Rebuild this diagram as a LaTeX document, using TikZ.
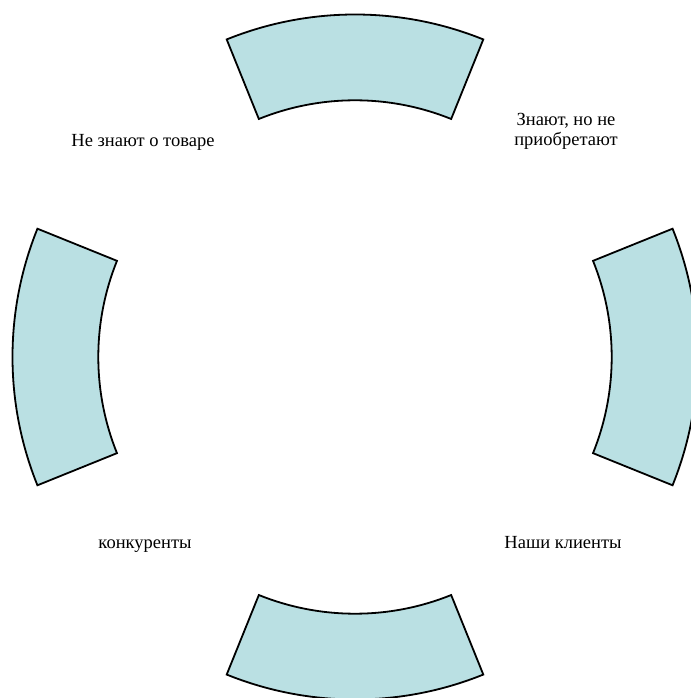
\documentclass[tikz,border=0pt]{standalone}
\usepackage{fontspec}
\setmainfont{Liberation Serif}
\definecolor{secfill}{RGB}{186,224,227}
\tikzset{sector/.style={draw=black,fill=secfill,line width=1.8pt,line join=miter},
	lbl/.style={font=\fontsize{18.5}{20.3}\selectfont,align=center,inner sep=0pt,anchor=base}}
\begin{document}
\begin{tikzpicture}[x=1pt,y=1pt]
	\useasboundingbox (-355,-341) rectangle (335,357); %frame
	\foreach \a in {0,90,180,270}{\draw[sector] (\a-22:342.5) arc[start angle=\a-22,end angle=\a+22,radius=342.5]
		-- (\a+22:256.7) arc[start angle=\a+22,end angle=\a-22,radius=256.7] -- cycle;}%sectors
	\node[lbl] (nezn) at (-212,210.3) {Не знают о товаре};
	\node[lbl] (zn) at (211,211) {Знают, но не\\приобретают};
	\node[lbl] (konk) at (-210,-191) {конкуренты};
	\node[lbl] (nashi) at (208,-191) {Наши клиенты};
\end{tikzpicture}
\end{document}
